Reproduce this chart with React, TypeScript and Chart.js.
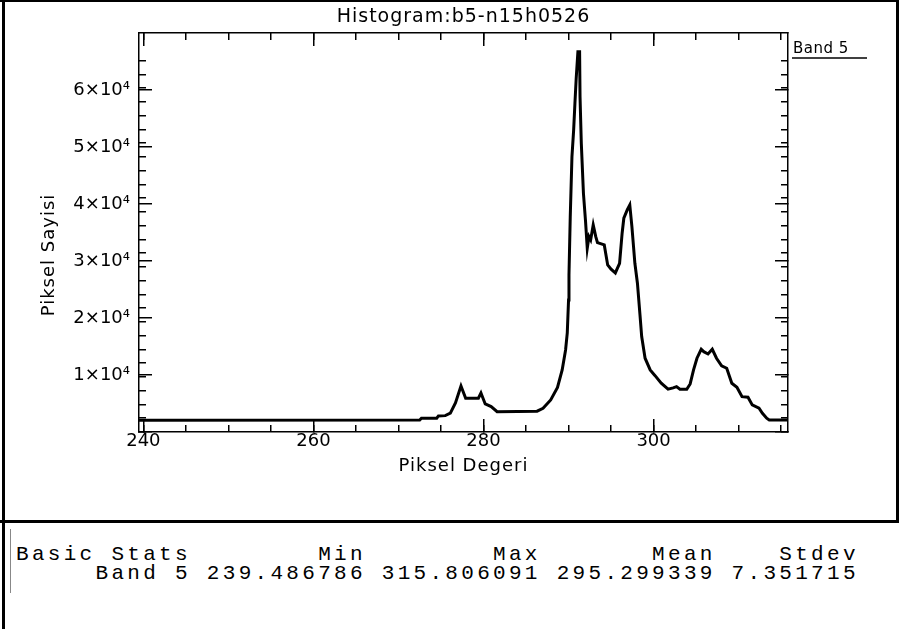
import React, { useEffect, useRef } from 'react';
import { Chart, registerables } from 'chart.js';

Chart.register(...registerables);

// ---------- text ----------
const chartTitle = 'Histogram:b5-n15h0526';
const xAxisTitle = 'Piksel Degeri';
const yAxisTitle = 'Piksel Sayisi';
const seriesLabel = 'Band 5';

// ---------- axes ----------
const xMin = 239.486786;
const xMax = 315.806091;
const yMin = -1950;
const yMax = 70950;
const xMajorStep = 20;
const xMinorStep = 5;
const yMajorStep = 10000;
const yMinorStep = 2500;
const yTickCap = 67500;
const yTickLabels = ['', '1×10⁴', '2×10⁴', '3×10⁴', '4×10⁴', '5×10⁴', '6×10⁴'];

// ---------- histogram series (pixel value, pixel count) ----------
const pixelValues = [
  239.49, 272.5, 272.7, 274.5, 274.7, 275.5, 276.1, 276.7, 277.35, 277.9,
  279.4, 279.7, 280.2, 280.9, 281.6, 284.0, 286.3, 287.0, 287.9, 288.7,
  289.25, 289.65, 289.85, 290.0, 290.05, 290.2, 290.4, 290.6, 290.75, 290.9,
  291.1, 291.3, 291.35, 291.5, 291.75, 292.0, 292.2, 292.4, 292.6, 292.9,
  293.2, 293.4, 294.2, 294.6, 295.0, 295.5, 296.0, 296.3, 296.5, 296.9,
  297.2, 297.45, 297.8, 298.1, 298.4, 298.6, 299.0, 299.6, 300.15, 300.9,
  301.7, 302.3, 302.7, 303.1, 303.9, 304.3, 304.7, 305.1, 305.6, 305.9,
  306.4, 306.9, 307.4, 308.0, 308.6, 309.2, 309.8, 310.4, 311.1, 311.6,
  312.4, 312.8, 313.3, 313.6, 315.8,
];
const pixelCounts = [
  200, 250, 570, 570, 990, 1040, 1480, 3360, 6470, 4220,
  4220, 5190, 3180, 2690, 1750, 1800, 1850, 2390, 3910, 6190,
  9390, 13040, 16150, 22180, 26750, 37400, 48360, 53240, 58120, 62680,
  67540, 67540, 59320, 50810, 41670, 36490, 31630, 33740, 33140, 35880,
  33740, 32650, 32230, 28570, 27790, 27110, 28880, 34370, 37110, 38620,
  39540, 35570, 28880, 25230, 19440, 15480, 11530, 9390, 8390, 6960,
  5870, 6100, 6340, 5870, 5870, 6830, 9390, 11530, 13170, 12730,
  12310, 13170, 11530, 10130, 9700, 6960, 6230, 4510, 4400, 2990,
  2390, 1480, 570, 250, 250,
];

// ---------- stats table ----------
const statsHeader = ['Basic Stats', 'Min', 'Max', 'Mean', 'Stdev'];
const statsBand = ['Band 5', '239.486786', '315.806091', '295.299339', '7.351715'];
const statsColWidths = [11, 11, 11, 11, 9];

const W = 899;
const H = 629;
const PLOT_H = 521;
const AREA = { left: 139, top: 33, right: 788, bottom: 432 };

const FONT_FAMILY = '"DejaVu Sans", sans-serif';
const LABEL_FONT = { family: FONT_FAMILY, size: 18, weight: 'normal' as any };

function axis(
  position: string,
  step: number,
  min: number,
  max: number,
  major: boolean,
  labels: boolean,
  size: number,
  extra: any = {}
) {
  const horizontal = position === 'top' || position === 'bottom';
  return {
    type: 'linear',
    position,
    min,
    max,
    weight: major ? 1 : 0,
    ticks: {
      display: labels,
      stepSize: step,
      includeBounds: false,
      autoSkip: false,
      maxRotation: 0,
      minRotation: 0,
      color: '#000',
      font: LABEL_FONT,
      padding: horizontal ? 12 : 22,
      ...(extra.ticks || {}),
    },
    grid: {
      display: true,
      drawOnChartArea: false,
      drawTicks: true,
      tickLength: major ? -13 : -7,
      color: '#000',
      tickColor: '#000',
      lineWidth: 1.5,
      tickWidth: 1.5,
    },
    border: { display: major, color: '#000', width: 1.5 },
    afterFit: (s: any) => {
      if (horizontal) s.height = size;
      else s.width = size;
    },
    afterBuildTicks: extra.afterBuildTicks,
  };
}

const capY = (s: any) => {
  s.ticks = s.ticks.filter((t: any) => t.value <= yTickCap);
};

const textPlugin = {
  id: 'idlText',
  afterDraw(chart: any) {
    const { ctx, chartArea } = chart;
    const cx = (chartArea.left + chartArea.right) / 2;
    ctx.save();
    ctx.fillStyle = '#000';
    ctx.strokeStyle = '#000';
    ctx.textBaseline = 'alphabetic';
    ctx.textAlign = 'center';
    ctx.font = `19px ${FONT_FAMILY}`;
    (ctx as any).letterSpacing = '1px';
    ctx.fillText(chartTitle, cx, 22);
    ctx.font = `18px ${FONT_FAMILY}`;
    ctx.fillText(xAxisTitle, cx, 471);
    // y title
    ctx.save();
    ctx.translate(54, 255);
    ctx.rotate(-Math.PI / 2);
    ctx.fillText(yAxisTitle, 0, 0);
    ctx.restore();
    // legend
    (ctx as any).letterSpacing = '0.5px';
    ctx.textAlign = 'left';
    ctx.font = `15px ${FONT_FAMILY}`;
    ctx.fillText(seriesLabel, chartArea.right + 5, 53);
    ctx.lineWidth = 1.5;
    ctx.beginPath();
    ctx.moveTo(chartArea.right + 4, 58);
    ctx.lineTo(chartArea.right + 79, 58);
    ctx.stroke();
    ctx.restore();
  },
};

export default function App() {
  const ref = useRef<HTMLCanvasElement | null>(null);

  useEffect(() => {
    if (!ref.current) return;
    const chart = new Chart(ref.current, {
      type: 'line',
      data: {
        datasets: [
          {
            label: seriesLabel,
            data: pixelValues.map((v, i) => ({ x: v, y: pixelCounts[i] })),
            borderColor: '#000',
            borderWidth: 3,
            pointRadius: 0,
            tension: 0,
            fill: false,
            xAxisID: 'x',
            yAxisID: 'y',
          },
        ],
      },
      options: {
        animation: false,
        responsive: false,
        events: [],
        layout: {
          padding: { left: 0, top: AREA.top, right: W - AREA.right, bottom: 0 },
        },
        plugins: {
          legend: { display: false },
          title: { display: false },
          tooltip: { enabled: false },
        },
        scales: {
          x: axis('bottom', xMajorStep, xMin, xMax, true, true, PLOT_H - AREA.bottom, {
            ticks: { callback: (v: any) => String(v) },
          }),
          xMinor: axis('bottom', xMinorStep, xMin, xMax, false, false, 0),
          xTop: axis('top', xMajorStep, xMin, xMax, true, false, 0),
          xTopMinor: axis('top', xMinorStep, xMin, xMax, false, false, 0),
          y: axis('left', yMajorStep, yMin, yMax, true, true, AREA.left, {
            ticks: { callback: (v: any) => yTickLabels[Math.round(v / yMajorStep)] ?? '' },
            afterBuildTicks: capY,
          }),
          yMinor: axis('left', yMinorStep, yMin, yMax, false, false, 0, { afterBuildTicks: capY }),
          yRight: axis('right', yMajorStep, yMin, yMax, true, false, 0, { afterBuildTicks: capY }),
          yRightMinor: axis('right', yMinorStep, yMin, yMax, false, false, 0, { afterBuildTicks: capY }),
        } as any,
      },
      plugins: [textPlugin],
    } as any);
    return () => chart.destroy();
  }, []);

  const line1 = statsHeader.map((s, i) => (i === 0 ? s.padEnd(statsColWidths[i]) : s.padStart(statsColWidths[i]))).join('');
  const line2 = statsBand.map((s, i) => s.padStart(statsColWidths[i])).join('');

  const black = '#000';
  return (
    <div style={{ position: 'absolute', left: 0, top: 0, width: W, height: H, background: '#fff', overflow: 'hidden' }}>
      <canvas ref={ref} width={W} height={PLOT_H} style={{ position: 'absolute', left: 0, top: 0 }} />
      <div style={{ position: 'absolute', left: 2, top: 0, width: 3, height: H, background: black }} />
      <div style={{ position: 'absolute', left: 0, top: 0, width: W, height: 2, background: black }} />
      <div style={{ position: 'absolute', left: 896, top: 0, width: 3, height: PLOT_H, background: black }} />
      <div style={{ position: 'absolute', left: 0, top: 520, width: W, height: 3, background: black }} />
      <div style={{ position: 'absolute', left: 10, top: 529, width: 1, height: 64, background: '#888' }} />
      <pre
        style={{
          position: 'absolute',
          left: 16,
          top: 545,
          margin: 0,
          fontFamily: '"Liberation Mono", monospace',
          fontSize: 21,
          lineHeight: '19px',
          letterSpacing: '3.3px',
          color: '#000',
        }}
      >
        {line1 + '\n' + line2}
      </pre>
    </div>
  );
}
